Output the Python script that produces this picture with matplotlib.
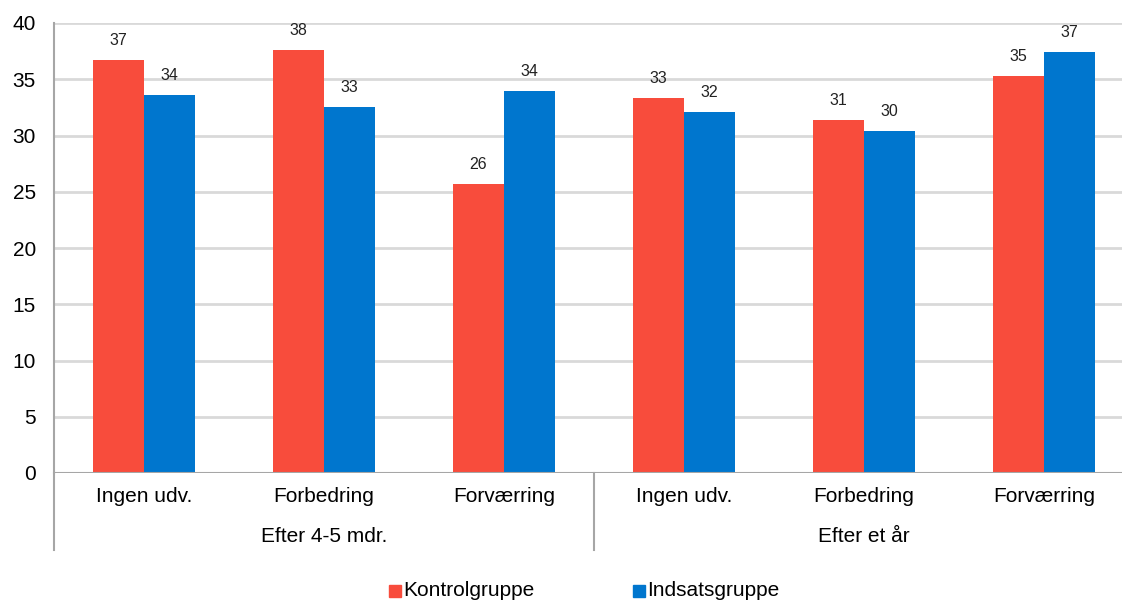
import matplotlib
matplotlib.use('Agg')
import numpy as np
from matplotlib import pyplot as plt
from matplotlib.patches import Rectangle

plt.rcParams['font.family'] = ['Liberation Sans', 'DejaVu Sans']

# data
categories = ['Ingen udv.', 'Forbedring', 'Forværring',
              'Ingen udv.', 'Forbedring', 'Forværring']
groups = ['Efter 4-5 mdr.', 'Efter et år']
kontrol = [36.7, 37.6, 25.7, 33.3, 31.4, 35.3]
indsats = [33.6, 32.5, 34.0, 32.1, 30.4, 37.4]
series_names = ['Kontrolgruppe', 'Indsatsgruppe']

red = '#F84C3C'
blue = '#0076CE'
grid_col = '#D9D9D9'
axis_col = '#A6A6A6'

W, H = 1122, 603
fig = plt.figure(figsize=(W / 100, H / 100), dpi=100)
ax = fig.add_axes([54 / W, 1 - 473 / H, 1 - 54 / W, (473 - 23) / H])

x = np.arange(len(categories))
bw = 0.285
b1 = ax.bar(x - bw / 2, kontrol, bw, color=red, zorder=3)
b2 = ax.bar(x + bw / 2, indsats, bw, color=blue, zorder=3)

for bars, vals in [(b1, kontrol), (b2, indsats)]:
    for b, v in zip(bars, vals):
        # round half up like a spreadsheet does
        ax.annotate(str(int(v + 0.5)), (b.get_x() + b.get_width() / 2, v),
                    xytext=(0, 12), textcoords='offset pixels',
                    ha='center', va='bottom', fontsize=11.5, color='#222222')

ax.set_ylim(0, 40)
ax.set_xlim(-0.5, 5.5 - 12 / 180)
ax.set_yticks(np.arange(0, 41, 5))
ax.yaxis.grid(True, color=grid_col, linewidth=2)
ax.set_axisbelow(True)
ax.tick_params(axis='y', length=0, labelsize=15, pad=13)
ax.tick_params(axis='x', length=0, labelbottom=False)
for s in ['top', 'right', 'bottom']:
    ax.spines[s].set_visible(False)
ax.spines['left'].set_color(axis_col)
ax.spines['left'].set_linewidth(1.5)
ax.axhline(0, color=axis_col, linewidth=1.5, zorder=4)

# category labels and group labels
trans = ax.get_xaxis_transform()
for xi, c in zip(x, categories):
    ax.text(xi, -24 / 450, c, transform=trans, ha='center', va='center',
            fontsize=15)
for gi, g in enumerate(groups):
    ax.text(gi * 3 + 1, -63 / 450, g, transform=trans, ha='center',
            va='center', fontsize=15)
for xs in [-0.5, 2.5]:
    ax.plot([xs, xs], [0, -77 / 450], transform=trans, color=axis_col,
            linewidth=1.5, clip_on=False)

# legend
for px, col, name in [(389, red, series_names[0]), (633, blue, series_names[1])]:
    fig.patches.append(Rectangle((px / W, 1 - 597 / H), 12 / W, 12 / H,
                                 color=col, transform=fig.transFigure))
    fig.text((px + 14) / W, 1 - 591 / H, name, ha='left', va='center',
             fontsize=15)

fig.savefig('out.png', dpi=100)
